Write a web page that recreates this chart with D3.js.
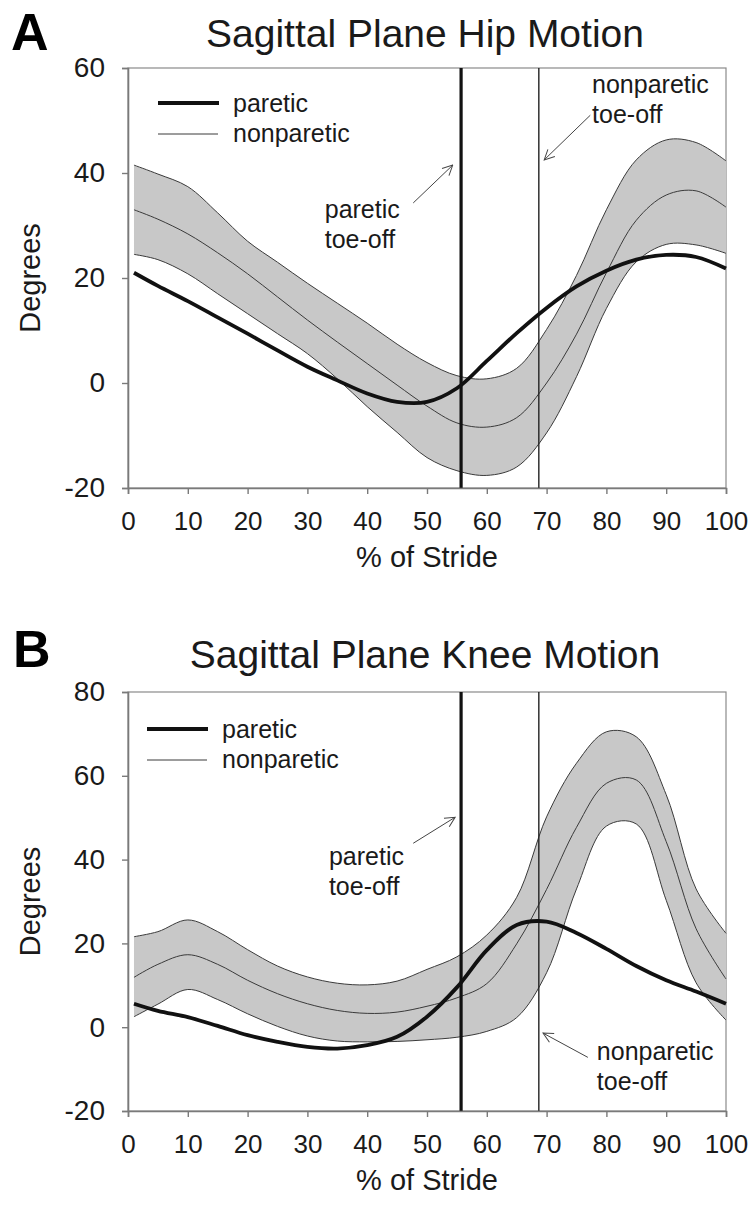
<!DOCTYPE html>
<html>
<head>
<meta charset="utf-8">
<script src="https://cdn.jsdelivr.net/npm/d3@7"></script>
<style>
  body { margin: 0; background: #fff; }
  text { font-family: "Liberation Sans", Arial, sans-serif; fill: #1a1a1a; }
</style>
</head>
<body>
<div id="chart"></div>
<script>
// % of stride sample points
var stride = [1, 5, 10, 15, 20, 25, 30, 35, 40, 45, 50, 55, 60, 65, 70, 75, 80, 85, 90, 95, 100];

// hip (degrees)
var hipParetic    = [21, 18.5, 15.6, 12.5, 9.4, 6.2, 3.1, 0.5, -2.0, -3.6, -3.6, -1.0, 4.2, 9.5, 14.3, 18.4, 21.4, 23.5, 24.4, 24.0, 21.8];
var hipNonparetic = [33, 31.2, 28.4, 24.8, 20.8, 16.4, 12.0, 7.8, 3.7, -0.4, -4.4, -7.6, -8.4, -6.6, 0.0, 9.3, 21.0, 31.0, 35.8, 36.6, 33.5];
var hipUpper      = [41.5, 39.8, 37.4, 32.4, 27.0, 23.0, 19.0, 15.2, 11.4, 7.4, 3.9, 1.4, 0.8, 2.8, 10.2, 20.5, 33.0, 42.5, 46.3, 45.8, 42.3];
var hipLower      = [24.5, 23.5, 20.8, 17.0, 13.2, 9.4, 5.6, 0.8, -4.5, -9.4, -14.2, -16.7, -17.6, -16.0, -9.5, 1.2, 14.2, 23.1, 26.4, 26.3, 24.7];

// knee (degrees)
var kneeParetic    = [5.6, 3.9, 2.4, 0.3, -1.9, -3.5, -4.7, -5.1, -4.3, -2.3, 2.5, 9.5, 18.4, 24.4, 25.2, 22.5, 18.7, 14.6, 11.2, 8.5, 5.6];
var kneeNonparetic = [11.9, 15.0, 17.3, 15.0, 11.2, 8.0, 5.6, 4.0, 3.3, 3.6, 5.0, 7.0, 10.4, 19.9, 32.9, 47.7, 58.2, 59.0, 44.3, 23.5, 11.5];
var kneeUpper      = [21.6, 22.8, 25.6, 22.8, 18.5, 14.6, 12.0, 10.5, 10.1, 11.0, 13.8, 16.8, 22.0, 31.0, 50.2, 63.0, 70.5, 69.3, 55.5, 33.0, 22.4];
var kneeLower      = [2.5, 5.5, 9.0, 6.6, 3.2, 0.2, -2.1, -3.3, -3.5, -3.4, -3.0, -2.4, -1.0, 2.3, 13.0, 33.0, 48.0, 48.5, 30.3, 10.6, 1.7];

// toe-off events (% of stride)
var pareticToeOff = 55.7;
var nonpareticToeOff = 68.7;

var xTicks = [0, 10, 20, 30, 40, 50, 60, 70, 80, 90, 100];
var hipTicks = [-20, 0, 20, 40, 60];
var kneeTicks = [-20, 0, 20, 40, 60, 80];

var svgWidth = 752;
var svgHeight = 1207;

var svg = d3.select("#chart")
  .append("svg")
  .attr("width", svgWidth)
  .attr("height", svgHeight);

// arrow head
svg.append("defs").append("marker")
  .attr("id", "arrow")
  .attr("viewBox", "0 0 12 12")
  .attr("refX", 11)
  .attr("refY", 6)
  .attr("markerWidth", 12)
  .attr("markerHeight", 12)
  .attr("markerUnits", "userSpaceOnUse")
  .attr("orient", "auto")
  .append("path")
  .attr("d", "M1,1 L11,6 L1,11")
  .attr("fill", "none")
  .attr("stroke", "#444")
  .attr("stroke-width", 1);

function drawPanel(opts) {
  var width = 598, height = opts.height;
  var g = svg.append("g")
    .attr("transform", `translate(${opts.left}, ${opts.top})`);

  var x = d3.scaleLinear().domain([0, 100]).range([0, width]);
  var y = d3.scaleLinear().domain(opts.domain).range([height, 0]);

  var rows = stride.map(function(s, i) {
    return { s: s, par: opts.paretic[i], non: opts.nonparetic[i], up: opts.upper[i], lo: opts.lower[i] };
  });

  var curve = d3.curveCatmullRom.alpha(0.5);

  // letter + title
  svg.append("text")
    .attr("x", opts.letterX)
    .attr("y", opts.top - opts.letterDy)
    .attr("font-size", 52)
    .attr("font-weight", "bold")
    .style("fill", "#000")
    .text(opts.letter);

  svg.append("text")
    .attr("x", opts.left + width / 2 - 2)
    .attr("y", opts.top - opts.titleDy)
    .attr("text-anchor", "middle")
    .attr("font-size", 39)
    .text(opts.title);

  // frame
  g.append("rect")
    .attr("width", width)
    .attr("height", height)
    .attr("fill", "none")
    .attr("stroke", "#8a8a8a")
    .attr("stroke-width", 1.2);

  // SD band
  g.append("path")
    .datum(rows)
    .attr("d", d3.area().curve(curve)
      .x(d => x(d.s)).y0(d => y(d.lo)).y1(d => y(d.up)))
    .attr("fill", "#c8c8c8");

  ["up", "lo", "non"].forEach(function(k) {
    g.append("path")
      .datum(rows)
      .attr("d", d3.line().curve(curve).x(d => x(d.s)).y(d => y(d[k])))
      .attr("fill", "none")
      .attr("stroke", "#3a3a3a")
      .attr("stroke-width", 1);
  });

  // toe-off lines
  g.append("line")
    .attr("x1", x(pareticToeOff)).attr("x2", x(pareticToeOff))
    .attr("y1", 0).attr("y2", height)
    .attr("stroke", "#111").attr("stroke-width", 3.2);
  g.append("line")
    .attr("x1", x(nonpareticToeOff)).attr("x2", x(nonpareticToeOff))
    .attr("y1", 0).attr("y2", height)
    .attr("stroke", "#222").attr("stroke-width", 1.4);

  // paretic mean
  g.append("path")
    .datum(rows)
    .attr("d", d3.line().curve(curve).x(d => x(d.s)).y(d => y(d.par)))
    .attr("fill", "none")
    .attr("stroke", "#111")
    .attr("stroke-width", 3.8);

  // axes (plain hyphen for negatives, as in the original)
  var fmt = d => String(d);
  var xAxis = g.append("g")
    .attr("transform", `translate(0, ${height})`)
    .call(d3.axisBottom(x).tickValues(xTicks).tickSize(6).tickPadding(18).tickFormat(fmt));
  var yAxis = g.append("g")
    .call(d3.axisLeft(y).tickValues(opts.ticks).tickSize(6).tickPadding(17).tickFormat(fmt));
  [xAxis, yAxis].forEach(function(a) {
    a.select(".domain").attr("stroke", "#7a7a7a").attr("stroke-width", 1.6);
    a.selectAll(".tick line").attr("stroke", "#7a7a7a").attr("stroke-width", 1.4);
    a.selectAll("text").attr("font-family", null).style("fill", "#1a1a1a");
  });
  xAxis.selectAll("text").attr("font-size", 26);
  yAxis.selectAll("text").attr("font-size", 28);

  // axis titles
  g.append("text")
    .attr("x", width / 2)
    .attr("y", height + 79)
    .attr("text-anchor", "middle")
    .attr("font-size", 29)
    .text("% of Stride");
  g.append("text")
    .attr("transform", `translate(-88, ${height / 2}) rotate(-90)`)
    .attr("text-anchor", "middle")
    .attr("font-size", 29)
    .text("Degrees");

  // legend
  var lg = g.append("g").attr("transform", `translate(${opts.legendX}, ${opts.legendY})`);
  lg.append("line").attr("x1", 0).attr("x2", 61).attr("y1", 0).attr("y2", 0)
    .attr("stroke", "#111").attr("stroke-width", 4);
  lg.append("line").attr("x1", 0).attr("x2", 60).attr("y1", 31).attr("y2", 31)
    .attr("stroke", "#3a3a3a").attr("stroke-width", 1);
  lg.append("text").attr("x", 75).attr("y", 9).attr("font-size", 25).text("paretic");
  lg.append("text").attr("x", 75).attr("y", 39).attr("font-size", 25).text("nonparetic");

  // annotations
  opts.notes.forEach(function(n) {
    g.append("line")
      .attr("x1", x(n.from[0])).attr("y1", y(n.from[1]))
      .attr("x2", x(n.to[0])).attr("y2", y(n.to[1]))
      .attr("stroke", "#444").attr("stroke-width", 1)
      .attr("marker-end", "url(#arrow)");
    var t = g.append("text")
      .attr("x", x(n.text[0]))
      .attr("y", y(n.text[1]))
      .attr("font-size", 25);
    n.lines.forEach(function(l, i) {
      t.append("tspan").attr("x", x(n.text[0])).attr("dy", i ? 30 : 0).text(l);
    });
  });
}

drawPanel({
  letter: "A", letterX: 11, letterDy: 18,
  title: "Sagittal Plane Hip Motion", titleDy: 21,
  left: 128, top: 68, height: 420,
  domain: [-20, 60], ticks: hipTicks,
  paretic: hipParetic, nonparetic: hipNonparetic, upper: hipUpper, lower: hipLower,
  legendX: 30, legendY: 35,
  notes: [
    { from: [47.7, 34.3], to: [54.3, 41.5], text: [32.9, 31.4], lines: ["paretic", "toe-off"] },
    { from: [77.3, 51.0], to: [69.6, 42.5], text: [77.6, 55.2], lines: ["nonparetic", "toe-off"] }
  ]
});

drawPanel({
  letter: "B", letterX: 13, letterDy: 25,
  title: "Sagittal Plane Knee Motion", titleDy: 24,
  left: 128, top: 692, height: 419,
  domain: [-20, 80], ticks: kneeTicks,
  paretic: kneeParetic, nonparetic: kneeNonparetic, upper: kneeUpper, lower: kneeLower,
  legendX: 19, legendY: 37,
  notes: [
    { from: [47.7, 43.9], to: [54.7, 50.1], text: [33.6, 38.7], lines: ["paretic", "toe-off"] },
    { from: [76.9, -7.2], to: [69.4, -1.4], text: [78.4, -7.9], lines: ["nonparetic", "toe-off"] }
  ]
});
</script>
</body>
</html>
